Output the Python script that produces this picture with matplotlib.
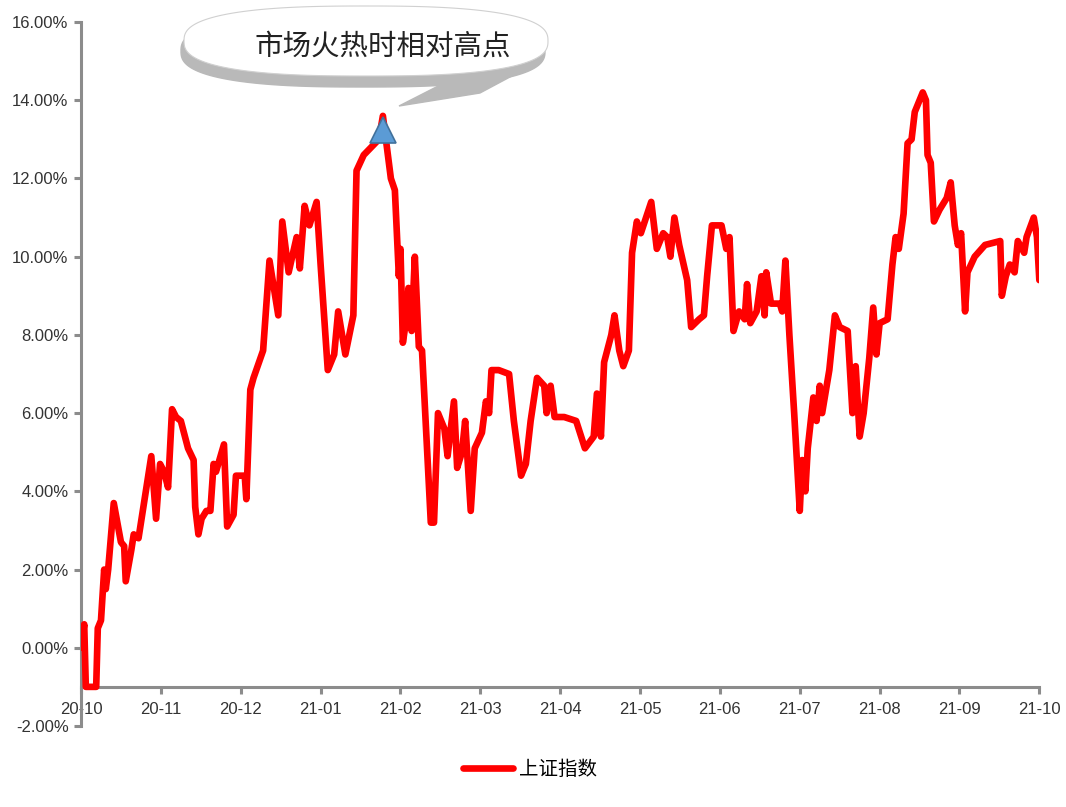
import matplotlib
matplotlib.use("Agg")
import numpy as np
import matplotlib.pyplot as plt
import matplotlib.patches as mpatches
import matplotlib.ticker as ticker

plt.rcParams['font.family'] = ['Liberation Sans', 'Noto Sans CJK SC', 'DejaVu Sans']

# x = months since 2020-10, y = cumulative return in %
months = [0.00, 0.04, 0.06, 0.19, 0.21, 0.25, 0.29, 0.31, 0.34, 0.41,
          0.50, 0.54, 0.56, 0.63, 0.66, 0.72, 0.88, 0.94, 0.99, 1.04,
          1.09, 1.14, 1.19, 1.25, 1.34, 1.41, 1.43, 1.47, 1.51, 1.57,
          1.62, 1.66, 1.69, 1.79, 1.83, 1.91, 1.94, 2.05, 2.07, 2.12,
          2.16, 2.28, 2.36, 2.47, 2.52, 2.60, 2.70, 2.74, 2.80, 2.86,
          2.95, 3.00, 3.09, 3.17, 3.22, 3.31, 3.41, 3.45, 3.54, 3.73,
          3.78, 3.88, 3.93, 3.98, 4.00, 4.03, 4.08, 4.10, 4.14, 4.18,
          4.23, 4.27, 4.38, 4.42, 4.47, 4.55, 4.59, 4.67, 4.71, 4.77,
          4.81, 4.88, 4.93, 5.02, 5.07, 5.11, 5.14, 5.23, 5.36, 5.42,
          5.51, 5.57, 5.63, 5.71, 5.80, 5.83, 5.88, 5.93, 6.05, 6.20,
          6.31, 6.42, 6.46, 6.51, 6.55, 6.64, 6.68, 6.74, 6.79, 6.86,
          6.90, 6.96, 7.01, 7.14, 7.21, 7.29, 7.34, 7.38, 7.43, 7.49,
          7.59, 7.64, 7.74, 7.80, 7.84, 7.90, 8.02, 8.08, 8.12, 8.17,
          8.24, 8.31, 8.34, 8.38, 8.46, 8.52, 8.56, 8.58, 8.64, 8.75,
          8.78, 8.82, 8.87, 8.93, 9.00, 9.03, 9.07, 9.10, 9.17, 9.21,
          9.25, 9.28, 9.37, 9.44, 9.50, 9.60, 9.66, 9.70, 9.75, 9.80,
          9.87, 9.92, 9.96, 10.00, 10.10, 10.16, 10.20, 10.24, 10.30, 10.35,
          10.40, 10.44, 10.54, 10.58, 10.60, 10.64, 10.68, 10.75, 10.84, 10.89,
          10.94, 10.98, 11.02, 11.07, 11.10, 11.19, 11.32, 11.51, 11.53, 11.58,
          11.63, 11.69, 11.73, 11.81, 11.84, 11.93, 11.97, 12.00]

sh_index = [0.0, 0.6, -1.0, -1.0, 0.5, 0.7, 2.0, 1.5, 2.0, 3.7,
            2.7, 2.6, 1.7, 2.5, 2.9, 2.8, 4.9, 3.3, 4.7, 4.5,
            4.1, 6.1, 5.9, 5.8, 5.1, 4.8, 3.6, 2.9, 3.3, 3.5,
            3.5, 4.7, 4.5, 5.2, 3.1, 3.4, 4.4, 4.4, 3.8, 6.6,
            6.9, 7.6, 9.9, 8.5, 10.9, 9.6, 10.5, 9.7, 11.3, 10.8,
            11.4, 9.8, 7.1, 7.5, 8.6, 7.5, 8.5, 12.2, 12.6, 13.0,
            13.6, 12.0, 11.7, 9.5, 10.2, 7.8, 8.5, 9.2, 8.1, 10.0,
            7.7, 7.6, 3.2, 3.2, 6.0, 5.6, 4.9, 6.3, 4.6, 5.0,
            5.8, 3.5, 5.1, 5.5, 6.3, 6.0, 7.1, 7.1, 7.0, 5.8,
            4.4, 4.7, 5.8, 6.9, 6.7, 6.0, 6.7, 5.9, 5.9, 5.8,
            5.1, 5.4, 6.5, 5.4, 7.3, 8.0, 8.5, 7.6, 7.2, 7.6,
            10.1, 10.9, 10.6, 11.4, 10.2, 10.6, 10.5, 10.0, 11.0, 10.3,
            9.4, 8.2, 8.4, 8.5, 9.5, 10.8, 10.8, 10.2, 10.5, 8.1,
            8.6, 8.4, 9.3, 8.3, 8.6, 9.5, 8.5, 9.6, 8.8, 8.8,
            8.6, 9.9, 8.0, 6.0, 3.5, 4.8, 4.0, 5.1, 6.4, 5.8,
            6.7, 6.0, 7.1, 8.5, 8.2, 8.1, 6.0, 7.2, 5.4, 6.0,
            7.4, 8.7, 7.5, 8.3, 8.4, 9.8, 10.5, 10.2, 11.1, 12.9,
            13.0, 13.7, 14.2, 14.0, 12.6, 12.4, 10.9, 11.2, 11.5, 11.9,
            10.8, 10.3, 10.6, 8.6, 9.6, 10.0, 10.3, 10.4, 9.0, 9.5,
            9.8, 9.6, 10.4, 10.1, 10.5, 11.0, 10.5, 9.4]

month_labels = ['20-10', '20-11', '20-12', '21-01', '21-02', '21-03', '21-04',
                '21-05', '21-06', '21-07', '21-08', '21-09', '21-10']
y_ticks = [-2, 0, 2, 4, 6, 8, 10, 12, 14, 16]

peak_month = 3.78
peak_value = 13.25
note_text = '市场火热时相对高点'
legend_label = '上证指数'


def bubble(cx, cy, a, b, n=2.6):
    # superellipse outline (flat-topped oval like the callout shape)
    t = np.linspace(0, 2 * np.pi, 200)
    c, s = np.cos(t), np.sin(t)
    xs = cx + a * np.sign(c) * np.abs(c) ** (2 / n)
    ys = cy + b * np.sign(s) * np.abs(s) ** (2 / n)
    return np.column_stack([xs, ys])


fig = plt.figure(figsize=(10.66, 8.07), dpi=100)
ax = fig.add_axes([0.076, 0.1004, 0.899, 0.8723])

line, = ax.plot(months, sh_index, color='#ff0000', lw=4.8,
                solid_joinstyle='round', solid_capstyle='round',
                label=legend_label, zorder=3)
ax.plot([peak_month], [peak_value], marker='^', markersize=19,
        markerfacecolor='#5b9bd5', markeredgecolor='#41719c',
        markeredgewidth=1.2, linestyle='none', zorder=4)

ax.set_xlim(0, 12)
ax.set_ylim(-2, 16)
ax.set_xticks(range(len(month_labels)))
ax.set_xticklabels(month_labels)
ax.set_yticks(y_ticks)
ax.yaxis.set_major_formatter(ticker.FuncFormatter(lambda v, p: '%.2f%%' % v))

for s in ['top', 'right']:
    ax.spines[s].set_visible(False)
ax.spines['bottom'].set_position(('data', -1))
for s in ['left', 'bottom']:
    ax.spines[s].set_color('#8c8c8c')
    ax.spines[s].set_linewidth(2.2)
ax.tick_params(axis='both', colors='#8c8c8c', width=2.2, length=5,
               labelsize=12, labelcolor='#333333')
ax.tick_params(axis='x', pad=6)
ax.tick_params(axis='y', pad=4)

ax.legend(handles=[line], loc='center', bbox_to_anchor=(0.497, 0.046),
          bbox_transform=fig.transFigure, frameon=False, fontsize=14,
          handlelength=2.6, handletextpad=0.3)

# speech bubble, drawn in pixel coordinates on an overlay
over = fig.add_axes([0, 0, 1, 1], zorder=5)
over.set_xlim(0, 1066)
over.set_ylim(807, 0)
over.axis('off')
over.add_patch(mpatches.Polygon(bubble(363, 51, 182, 36), closed=True,
                                color='#b9b9b9'))
over.add_patch(mpatches.Polygon([(450, 80), (399, 106), (480, 93), (538, 62)],
                                closed=True, color='#b9b9b9'))
over.add_patch(mpatches.Polygon(bubble(366, 41, 182, 35), closed=True,
                                facecolor='white', edgecolor='#d0d0d0', lw=0.8))
over.text(383, 47, note_text, fontsize=20.5, color='#222222',
          ha='center', va='center')

plt.savefig('out.png', dpi=100)
